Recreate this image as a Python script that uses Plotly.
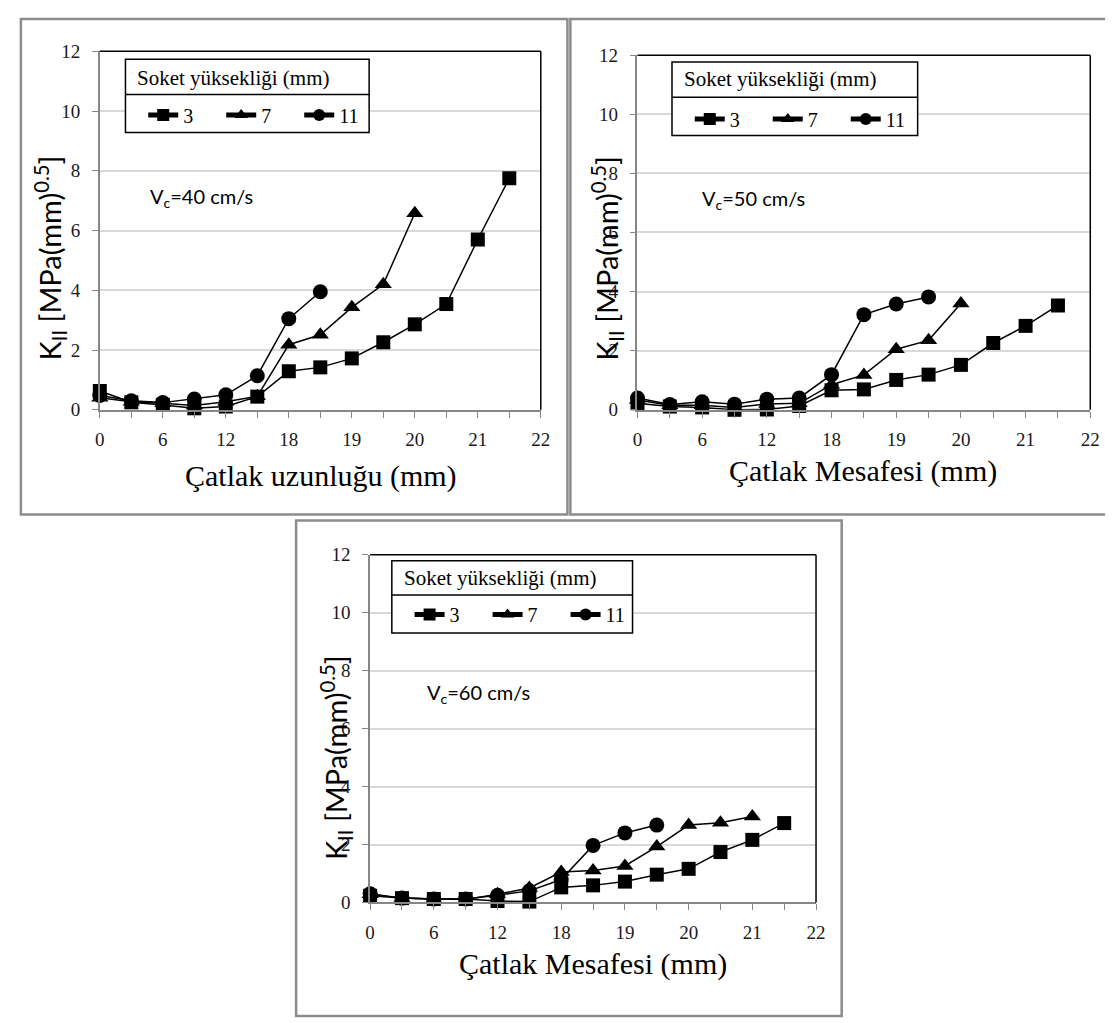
import plotly.graph_objects as go

W, H = 1113, 1023

# ---------------- data ----------------
categories = ["0", "3", "6", "9", "12", "15", "18", "18.5", "19", "19.5", "20", "20.5", "21", "21.5", "22"]
shown_labels = ["0", "6", "12", "18", "19", "20", "21", "22"]   # every second category is labelled
y_ticks = [0, 2, 4, 6, 8, 10, 12]
series_names = ["3", "7", "11"]
panel_titles = ["Çatlak uzunluğu (mm)", "Çatlak Mesafesi (mm)", "Çatlak Mesafesi (mm)"]
speed_labels = ["V<sub>c</sub>=40 cm/s", "V<sub>c</sub>=50 cm/s", "V<sub>c</sub>=60 cm/s"]
legend_title = "Soket yüksekliği (mm)"
y_title = "K<sub>II</sub> [MPa(mm)<sup>0.5</sup>]"

# Vc = 40 cm/s
v40_h3 = [0.63, 0.25, 0.16, 0.05, 0.11, 0.44, 1.29, 1.42, 1.72, 2.26, 2.86, 3.54, 5.70, 7.75]
v40_h7 = [0.40, 0.27, 0.22, 0.14, 0.27, 0.45, 2.18, 2.51, 3.43, 4.20, 6.58]
v40_h11 = [0.48, 0.30, 0.24, 0.36, 0.50, 1.14, 3.05, 3.95]
# Vc = 50 cm/s
v50_h3 = [0.22, 0.11, 0.08, 0.00, 0.01, 0.13, 0.66, 0.69, 1.01, 1.19, 1.52, 2.26, 2.84, 3.53]
v50_h7 = [0.33, 0.15, 0.15, 0.08, 0.20, 0.22, 0.85, 1.18, 2.05, 2.35, 3.60]
v50_h11 = [0.40, 0.18, 0.27, 0.19, 0.36, 0.40, 1.19, 3.22, 3.58, 3.82]
# Vc = 60 cm/s
v60_h3 = [0.23, 0.15, 0.12, 0.12, 0.05, 0.03, 0.52, 0.59, 0.72, 0.96, 1.16, 1.74, 2.16, 2.74]
v60_h7 = [0.28, 0.15, 0.12, 0.10, 0.28, 0.50, 1.05, 1.10, 1.26, 1.93, 2.67, 2.75, 2.97]
v60_h11 = [0.30, 0.15, 0.12, 0.12, 0.25, 0.40, 0.79, 1.97, 2.40, 2.67]

panels_data = [
    [v40_h3, v40_h7, v40_h11],
    [v50_h3, v50_h7, v50_h11],
    [v60_h3, v60_h7, v60_h11],
]

# ---------------- layout geometry (pixels) ----------------
frames = [(8, 1, 562, 507), (565, 1, 1112, 507), (287, 513, 840, 1019)]
plots = [(88, 34, 535, 400), (633, 38, 1092, 400), (362, 548, 814, 903)]
# box left, top, right, bottom, divider y, header y, entries y
legend_boxes = [(114, 42, 361, 117, 78, 61, 99),
                (668, 45, 917, 120, 81, 62, 103),
                (384, 554, 628, 628, 589, 572, 609)]
speed_pos = [(137, 183), (696, 185), (418, 690)]
xtitle_pos = [(312, 468), (862, 463), (588, 966)]
ytitle_pos = [(37, 245), (602, 245), (327, 755)]


def px(x):
    return x / W


def py(y):
    return 1 - y / H


symbols = ["square", "triangle-up", "circle"]
sizes = [14, 15, 15]

fig = go.Figure()
legend_keys = ["legend", "legend2", "legend3"]
shapes = []
annotations = []
n_cat = len(categories)
label_positions = [k for k in range(n_cat) if k % 2 == 0]

for i in range(3):
    ax_suffix = "" if i == 0 else str(i + 1)
    for j, vals in enumerate(panels_data[i]):
        fig.add_trace(go.Scatter(
            x=list(range(len(vals))), y=vals,
            customdata=categories[:len(vals)],
            mode="lines+markers", name=series_names[j],
            line=dict(color="black", width=1.5),
            marker=dict(symbol=symbols[j], size=sizes[j], color="black"),
            xaxis="x" + ax_suffix, yaxis="y" + ax_suffix,
            legend=legend_keys[i], cliponaxis=False,
        ))
    x0, y0, x1, y1 = plots[i]
    xa = dict(
        domain=[px(x0), px(x1)], range=[0, n_cat - 1],
        tickmode="array", tickvals=label_positions, ticktext=shown_labels,
        ticks="outside", ticklen=6, tickwidth=1.2, tickcolor="#868686",
        minor=dict(dtick=1, tick0=0, ticks="outside", ticklen=6, tickwidth=1.2, tickcolor="#868686"),
        showline=True, linecolor="#868686", linewidth=1.5,
        showgrid=False, zeroline=False, fixedrange=True,
        tickfont=dict(family="Liberation Serif", size=19, color="#1a1a1a"),
        ticklabelstandoff=6,
        anchor="y" + ax_suffix,
    )
    ya = dict(
        domain=[py(y1), py(y0)], range=[0, 12], tickvals=y_ticks,
        ticks="outside", ticklen=6, tickwidth=1.2, tickcolor="#868686",
        showline=True, linecolor="#868686", linewidth=1.5,
        showgrid=True, gridcolor="#d9d9d9", gridwidth=1.5, zeroline=False,
        tickfont=dict(family="Liberation Serif", size=19, color="#1a1a1a"),
        ticklabelstandoff=8, fixedrange=True,
        anchor="x" + ax_suffix,
    )
    fig.update_layout(**{"xaxis" + ax_suffix: xa, "yaxis" + ax_suffix: ya})

    # plot area border (top and right, black)
    shapes.append(dict(type="line", xref="x" + ax_suffix + " domain", yref="y" + ax_suffix + " domain",
                       x0=0, x1=1, y0=1, y1=1, line=dict(color="black", width=1.5), layer="above"))
    shapes.append(dict(type="line", xref="x" + ax_suffix + " domain", yref="y" + ax_suffix + " domain",
                       x0=1, x1=1, y0=0, y1=1, line=dict(color="black", width=1.5), layer="above"))

    # chart frame
    fx0, fy0, fx1, fy1 = frames[i]
    shapes.append(dict(type="rect", xref="paper", yref="paper",
                       x0=px(fx0), x1=px(fx1), y0=py(fy1), y1=py(fy0),
                       line=dict(color="#8c8c8c", width=2.5), layer="below"))

    # legend box with header row
    lx0, ly0, lx1, ly1, ld, lh, le = legend_boxes[i]
    shapes.append(dict(type="rect", xref="paper", yref="paper",
                       x0=px(lx0), x1=px(lx1), y0=py(ly1), y1=py(ly0),
                       line=dict(color="black", width=1.5), fillcolor="white", layer="above"))
    shapes.append(dict(type="line", xref="paper", yref="paper",
                       x0=px(lx0), x1=px(lx1), y0=py(ld), y1=py(ld),
                       line=dict(color="black", width=1.5), layer="above"))
    annotations.append(dict(text=legend_title, xref="paper", yref="paper",
                            x=px(lx0 + 10), y=py(lh), xanchor="left", yanchor="middle", showarrow=False,
                            font=dict(family="Liberation Serif", size=21, color="black")))

    fig.update_layout(**{legend_keys[i]: dict(
        orientation="h", x=px(lx0 + 18), y=py(le), xanchor="left", yanchor="middle",
        bgcolor="rgba(0,0,0,0)", borderwidth=0,
        font=dict(family="Liberation Serif", size=20, color="black"),
        itemwidth=30, entrywidth=33, itemsizing="constant", tracegroupgap=0,
        itemclick=False, itemdoubleclick=False,
    )})

    # texts
    sx, sy = speed_pos[i]
    annotations.append(dict(text=speed_labels[i], xref="paper", yref="paper",
                            x=px(sx), y=py(sy), xanchor="left", yanchor="middle", showarrow=False,
                            font=dict(family="Lato", size=20, color="black")))
    tx, ty = xtitle_pos[i]
    annotations.append(dict(text=panel_titles[i], xref="paper", yref="paper",
                            x=px(tx), y=py(ty), xanchor="center", yanchor="middle", showarrow=False,
                            font=dict(family="Liberation Serif", size=30, color="black")))
    yx, yy = ytitle_pos[i]
    annotations.append(dict(text=y_title, xref="paper", yref="paper", textangle=-90,
                            x=px(yx), y=py(yy), xanchor="center", yanchor="middle", showarrow=False,
                            font=dict(family="Lato", size=29, color="black")))

fig.update_layout(
    width=W, height=H, margin=dict(l=0, r=0, t=0, b=0),
    paper_bgcolor="white", plot_bgcolor="white",
    shapes=shapes, annotations=annotations,
)

fig.write_html("out.html")
